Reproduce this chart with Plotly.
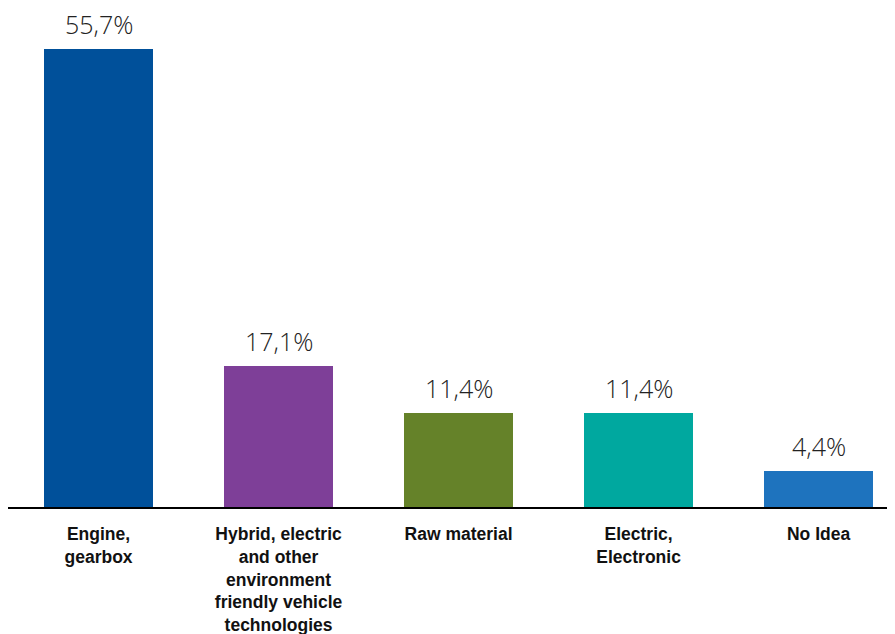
import plotly.graph_objects as go

categories = ["Engine,<br>gearbox",
              "Hybrid, electric<br>and other<br>environment<br>friendly vehicle<br>technologies",
              "Raw material",
              "Electric,<br>Electronic",
              "No Idea"]
values = [55.7, 17.1, 11.4, 11.4, 4.4]
colors = ["#00509A", "#7E3F98", "#658229", "#00A89F", "#1E73BE"]

x = list(range(len(categories)))

fig = go.Figure(go.Bar(
    x=x, y=values,
    marker=dict(color=colors, line=dict(width=0)),
    width=0.606,
    hoverinfo="skip",
))

for xi, v in zip(x, values):
    fig.add_annotation(
        x=xi, y=v, text=f"{v:.1f}%".replace(".", ","),
        showarrow=False, yanchor="bottom", yshift=6,
        font=dict(family="Open Sans", size=25, color="#222222", weight=300),
    )

fig.update_layout(
    width=895, height=634,
    margin=dict(l=0, r=0, t=0, b=135),
    paper_bgcolor="white", plot_bgcolor="white",
    separators=",.",
    showlegend=False,
    bargap=0,
    xaxis=dict(
        tickmode="array", tickvals=x, ticktext=categories,
        range=[-0.503, 4.469],
        showline=True, linecolor="black", linewidth=2,
        showgrid=False, zeroline=False, ticks="",
        ticklabelstandoff=10,
        tickfont=dict(family="Liberation Sans", size=17.5, color="#111111", weight="bold"),
    ),
    yaxis=dict(range=[0, 60.7], visible=False, showgrid=False, zeroline=False),
)

fig.write_html("out.html")
